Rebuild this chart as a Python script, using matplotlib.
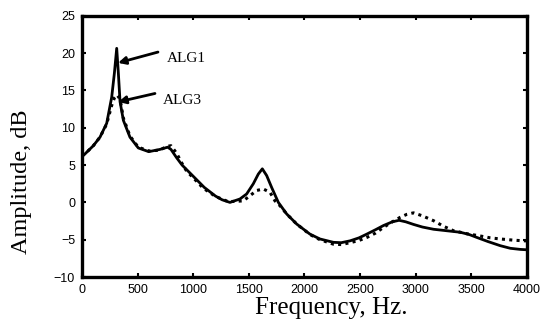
import matplotlib
matplotlib.use("Agg")
import matplotlib.pyplot as plt

# ALG1 (solid)
freq_alg1 = [0, 27, 102, 162, 222, 267, 291, 312, 327, 342, 372, 431, 506,
             600, 700, 770, 800, 850, 900, 1000, 1100, 1200, 1260, 1330, 1420,
             1480, 1540, 1585, 1621, 1660, 1705, 1765, 1840, 1930, 2049, 2139,
             2260, 2330, 2410, 2490, 2560, 2640, 2710, 2790, 2850, 2910, 2980,
             3060, 3160, 3280, 3400, 3480, 3550, 3650, 3760, 3850, 3940, 4000]
amp_alg1 = [6.2, 6.5, 7.6, 8.75, 10.6, 14.1, 17.3, 20.65, 17.3, 13.5, 11.0,
            8.75, 7.3, 6.8, 7.1, 7.4, 7.1, 6.0, 5.0, 3.5, 2.0, 0.85, 0.35, 0.0,
            0.46, 1.13, 2.5, 3.8, 4.5, 3.6, 2.0, 0.0, -1.55, -2.9, -4.25, -4.9,
            -5.35, -5.4, -5.15, -4.75, -4.25, -3.65, -3.1, -2.6, -2.4, -2.6,
            -2.95, -3.3, -3.6, -3.8, -4.0, -4.3, -4.7, -5.25, -5.8, -6.15, -6.3,
            -6.35]

# ALG3 (dotted)
freq_alg3 = [0, 27, 102, 162, 222, 267, 291, 315, 335, 350, 372, 431, 506,
             600, 700, 760, 800, 850, 900, 940, 1000, 1090, 1200, 1315, 1450,
             1510, 1570, 1630, 1690, 1735, 1780, 1840, 1930, 2049, 2139, 2260,
             2330, 2410, 2490, 2560, 2640, 2710, 2790, 2860, 2920, 2980, 3060,
             3160, 3250, 3340, 3460, 3580, 3670, 3760, 3870, 3970, 4000]
amp_alg3 = [6.2, 6.5, 7.6, 8.75, 10.5, 13.0, 14.0, 14.4, 14.0, 13.2, 11.3, 8.9,
            7.4, 6.9, 7.0, 7.5, 7.6, 6.6, 5.2, 4.2, 3.3, 1.9, 0.8, 0.1, 0.2,
            0.9, 1.6, 1.8, 1.35, 0.2, -0.45, -1.55, -2.9, -4.3, -5.0, -5.6,
            -5.65, -5.4, -5.1, -4.7, -4.1, -3.35, -2.6, -2.0, -1.6, -1.4, -1.8,
            -2.45, -3.2, -3.8, -4.2, -4.5, -4.75, -4.9, -5.05, -5.15, -5.15]

x_ticks = [0, 500, 1000, 1500, 2000, 2500, 3000, 3500, 4000]
y_ticks = [-10, -5, 0, 5, 10, 15, 20, 25]

fig = plt.figure(figsize=(5.43, 3.24), dpi=100)
ax = fig.add_axes([0.151, 0.145, 0.8195, 0.806])

ax.plot(freq_alg3, amp_alg3, color="black", lw=2.2,
        linestyle=(0, (1, 1.4)), dash_capstyle="butt")
ax.plot(freq_alg1, amp_alg1, color="black", lw=2.0)

ax.set_xlim(0, 4000)
ax.set_ylim(-10, 25)
ax.set_xticks(x_ticks)
ax.set_yticks(y_ticks)
ax.tick_params(direction="in", length=3, width=1.5, top=True, right=True,
               labelsize=9, pad=5)
for lab in ax.get_xticklabels() + ax.get_yticklabels():
    lab.set_family("Liberation Sans")
for sp in ax.spines.values():
    sp.set_linewidth(2.4)

ax.set_xlabel("Frequency, Hz.", family="Liberation Serif", fontsize=18)
ax.xaxis.set_label_coords(0.561, -0.075)
ax.set_ylabel("Amplitude, dB", family="Liberation Serif", fontsize=17.5)
ax.yaxis.set_label_coords(-0.113, 0.364)

# arrow annotations
arrow = dict(arrowstyle="-|>", color="black", lw=2, mutation_scale=11,
             shrinkA=0, shrinkB=0)
ax.annotate("", xy=(324, 18.7), xytext=(683, 20.15), arrowprops=arrow)
ax.text(764, 19.35, "ALG1", family="Liberation Serif", fontsize=11, va="center")
ax.annotate("", xy=(326, 13.47), xytext=(656, 14.6), arrowprops=arrow)
ax.text(728, 13.7, "ALG3", family="Liberation Serif", fontsize=11, va="center")

fig.savefig("out.png", dpi=100)
